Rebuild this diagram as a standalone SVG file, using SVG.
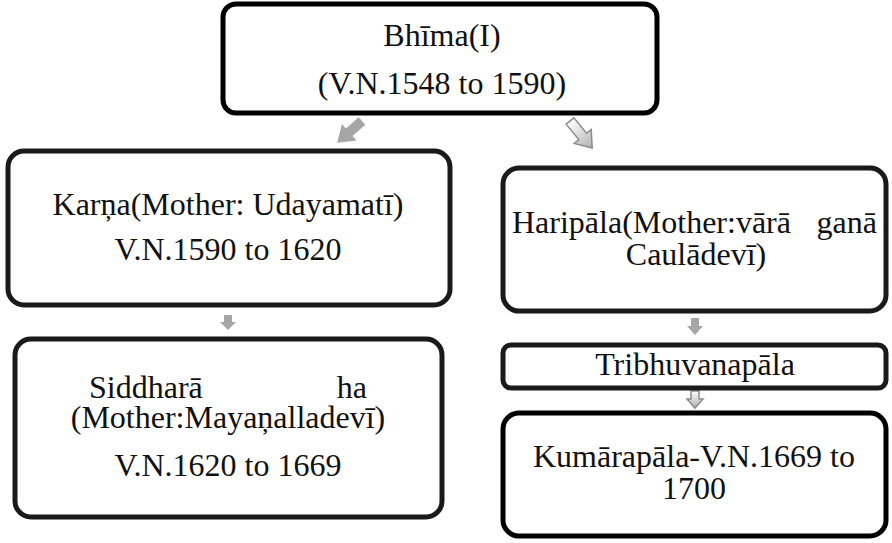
<svg xmlns="http://www.w3.org/2000/svg" width="892" height="543" viewBox="0 0 892 543">
<style>
.box{fill:#fff;stroke:#1a1a1a;stroke-width:5}
.dark{stroke:#000}
.t{font-family:'Liberation Serif','Times New Roman',serif;font-size:32px;fill:#111}
.c{text-anchor:middle}
.solid{fill:#a6a6a6}
.hollow{fill:url(#g);stroke:#8c8c8c;stroke-width:1.5}
</style>
<defs>
<linearGradient id="g" x1="0" y1="0" x2="0" y2="1">
<stop offset="0" stop-color="#ffffff"/>
<stop offset="1" stop-color="#b0b0b0"/>
</linearGradient>
</defs>
<rect width="892" height="543" fill="#fff"/>
<g id="connectors">
<polygon class="solid" transform="translate(362,121) rotate(48.7)" points="-5,0 5,0 5,17 11,17 0,33 -11,17 -5,17"/>
<polygon class="hollow" transform="translate(570,121) rotate(-39.4)" points="-5,0 5,0 5,20 11,20 0,35 -11,20 -5,20"/>
<polygon class="solid" points="224,315 232,315 232,322 236,322 228,330 220,322 224,322"/>
<polygon class="solid" points="691,318 699,318 699,326 703,326 695,335 687,326 691,326"/>
<polygon class="hollow" points="691,391 699,391 699,399 703,399 695,408 687,399 691,399"/>
</g>
<g id="bhima">
<rect class="box dark" x="223" y="4" width="434" height="109" rx="13"/>
<text class="t c" x="442" y="46">Bhīma(I)</text>
<text class="t c" x="442" y="94">(V.N.1548 to 1590)</text>
</g>
<g id="karna">
<rect class="box" x="8" y="151" width="442" height="154" rx="16"/>
<text class="t c" x="228" y="215">Karņa(Mother: Udayamatī)</text>
<text class="t c" x="228" y="260">V.N.1590 to 1620</text>
</g>
<g id="siddharaja">
<rect class="box" x="15" y="339" width="427" height="178" rx="16"/>
<text class="t" x="89" y="398">Siddharā</text>
<text class="t" x="367" y="398" text-anchor="end">ha</text>
<text class="t c" x="228" y="428">(Mother:Mayaņalladevī)</text>
<text class="t c" x="228" y="476">V.N.1620 to 1669</text>
</g>
<g id="haripala">
<rect class="box" x="503" y="168" width="383" height="143" rx="16"/>
<text class="t" x="512" y="233">Haripāla(Mother:vārā</text>
<text class="t" x="877" y="233" text-anchor="end">ganā</text>
<text class="t c" x="696" y="265">Caulādevī)</text>
</g>
<g id="tribhuvanapala">
<rect class="box" x="503" y="345" width="383" height="43" rx="8"/>
<text class="t c" x="695" y="375">Tribhuvanapāla</text>
</g>
<g id="kumarapala">
<rect class="box dark" x="503" y="413" width="383" height="123" rx="16"/>
<text class="t c" x="694" y="467">Kumārapāla-V.N.1669 to</text>
<text class="t c" x="694" y="499">1700</text>
</g>
</svg>
